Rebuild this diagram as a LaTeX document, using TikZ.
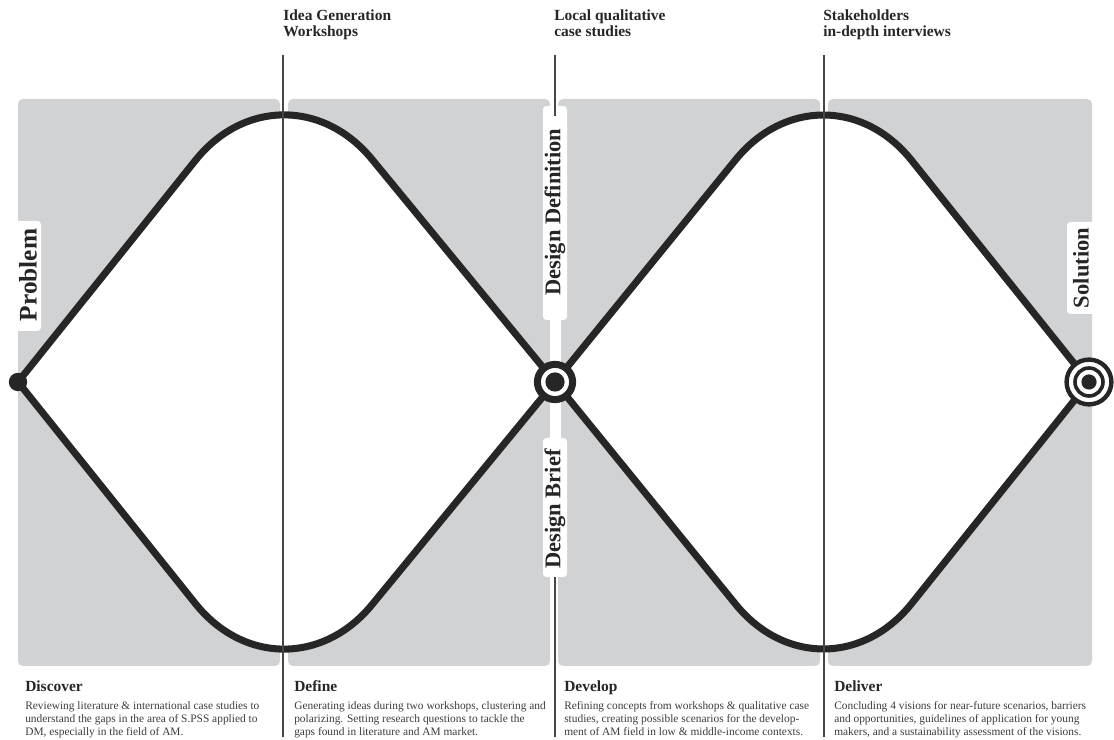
\documentclass[tikz,border=0pt]{standalone}
\usepackage{fontspec}
\setmainfont{Liberation Serif}
\usetikzlibrary{calc}

\definecolor{panelgray}{RGB}{209,210,212}
\definecolor{ink}{RGB}{38,38,38}
\definecolor{wiregray}{RGB}{70,70,70}

\begin{document}
\begin{tikzpicture}[x=0.025cm, y=-0.025cm]
	\tikzset{
		panel/.style={fill=panelgray, rounded corners=3.5pt},
		tab/.style={fill=white, rounded corners=2.5pt},
		curve/.style={draw=ink, line width=5pt, fill=white, line join=round},
		wire/.style={draw=wiregray, line width=0.8pt},
		stage/.style={rotate=90, inner sep=0pt, text=ink, font=\bfseries\fontsize{16}{16}\selectfont},
		toplabel/.style={anchor=north west, align=left, inner sep=0pt, text=ink, font=\bfseries\fontsize{11}{12}\selectfont},
		heading/.style={anchor=north west, inner sep=0pt, text=ink, font=\bfseries\fontsize{11}{13}\selectfont},
		body/.style={anchor=north west, align=left, inner sep=0pt, text=ink!90, font=\fontsize{8.1}{9.2}\selectfont}
	}
	\useasboundingbox (0,0) rectangle (1114,740);
	
	% pannelli grigi
	\fill[panel] (18,99) rectangle (280,666);
	\fill[panel] (288,99) rectangle (550,666);
	\fill[panel] (558,99) rectangle (820,666);
	\fill[panel] (828,99) rectangle (1092,666);
	
	\fill[tab] (12,221) rectangle (41,331);
	\fill[tab] (1067,222) rectangle (1098,314);
	\fill[tab] (543,106) rectangle (567,320);
	\fill[tab] (543,438) rectangle (567,577);
	\fill[white] (550,310) rectangle (561,448);
	
	\coordinate (L) at (18,382);
	\coordinate (C) at (555,382);
	\coordinate (R) at (1089,382);
	\coordinate (T1) at (283,51);
	\coordinate (B1) at (283,713);
	\coordinate (T2) at (824,51);
	\coordinate (B2) at (824,713);
	
	% vertici alti e bassi arrotondati, vertici laterali a punta
	\draw[curve] (L) -- ($(T1)!3.5cm!(L)$) .. controls ($(T1)!1.575cm!(L)$) and ($(T1)!1.575cm!(C)$) .. ($(T1)!3.5cm!(C)$) -- (C)
		-- ($(B1)!3.5cm!(C)$) .. controls ($(B1)!1.575cm!(C)$) and ($(B1)!1.575cm!(L)$) .. ($(B1)!3.5cm!(L)$) -- cycle;
	\draw[curve] (C) -- ($(T2)!3.5cm!(C)$) .. controls ($(T2)!1.575cm!(C)$) and ($(T2)!1.575cm!(R)$) .. ($(T2)!3.5cm!(R)$) -- (R)
		-- ($(B2)!3.5cm!(R)$) .. controls ($(B2)!1.575cm!(R)$) and ($(B2)!1.575cm!(C)$) .. ($(B2)!3.5cm!(C)$) -- cycle;
	
	\draw[wire] (283,55) -- (283,737);
	\draw[wire] (824,55) -- (824,737);
	\draw[wire] (555,55) -- (555,116);
	\draw[wire] (555,577) -- (555,737);
	
	\fill[ink] (L) circle (0.23cm);
	\draw[ink, line width=0.175cm, fill=white] (C) circle (0.44cm);
	\fill[ink] (C) circle (0.24cm);
	\draw[ink, line width=0.11cm, fill=white] (R) circle (0.56cm);
	\draw[ink, line width=0.09cm] (R) circle (0.35cm);
	\fill[ink] (R) circle (0.19cm);
	
	\node[stage, font=\bfseries\fontsize{18}{18}\selectfont] (problem) at (28,275) {Problem};
	\node[stage] (solution) at (1081,268) {Solution};
	\node[stage] (definition) at (555,212) {Design Definition};
	\node[stage] (brief) at (555,509) {Design Brief};
	
	\node[toplabel] (ideas) at (283,9) {Idea Generation\\Workshops};
	\node[toplabel] (cases) at (554,9) {Local qualitative\\case studies};
	\node[toplabel] (talks) at (823,9) {Stakeholders\\in-depth interviews};
	
	\node[heading] (discover) at (25,680) {Discover};
	\node[heading] (define) at (294,680) {Define};
	\node[heading] (develop) at (564,680) {Develop};
	\node[heading] (deliver) at (834,680) {Deliver};
	
	\node[body] (discoverText) at (25,701) {Reviewing literature \& international case studies to\\understand the gaps in the area of S.PSS applied to\\DM, especially in the field of AM.};
	\node[body] (defineText) at (294,701) {Generating ideas during two workshops, clustering and\\polarizing. Setting research questions to tackle the\\gaps found in literature and AM market.};
	\node[body] (developText) at (564,701) {Refining concepts from workshops \& qualitative case\\studies, creating possible scenarios for the develop-\\ment of AM field in low \& middle-income contexts.};
	\node[body] (deliverText) at (834,701) {Concluding 4 visions for near-future scenarios, barriers\\and opportunities, guidelines of application for young\\makers, and a sustainability assessment of the visions.};
\end{tikzpicture}
\end{document}
